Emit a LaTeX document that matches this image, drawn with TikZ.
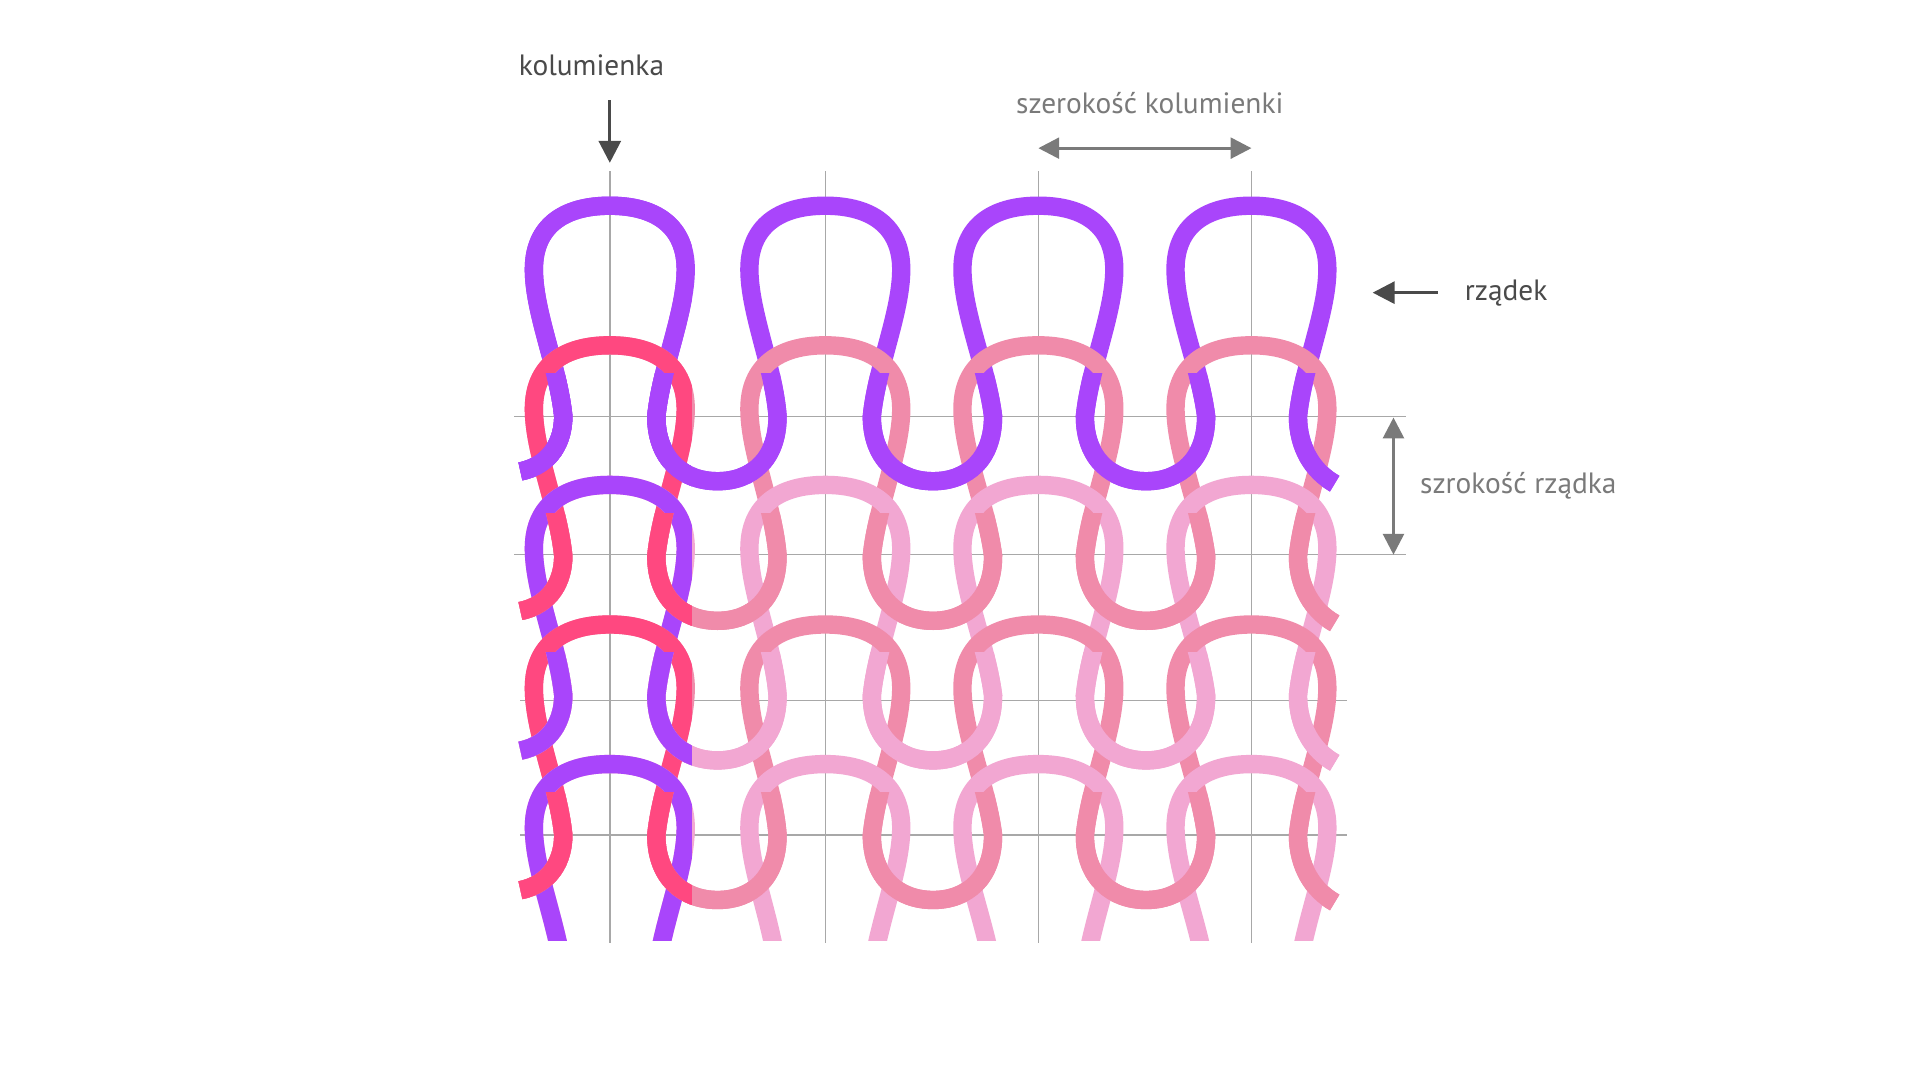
\documentclass[tikz,border=0pt]{standalone}
\usepackage{fontspec}
\setmainfont{PT Sans}
\usetikzlibrary{arrows.meta}
\definecolor{vio}{HTML}{A945FB}
\definecolor{red1}{HTML}{FF4880}
\definecolor{pmed}{HTML}{F08BAA}
\definecolor{plight}{HTML}{F2A7D2}
\definecolor{grid}{HTML}{A8A8A8}
\definecolor{dark}{HTML}{4A4A4A}
\definecolor{mid}{HTML}{7A7A7A}
\newcommand\loopat[2]{% c, L
 .. controls ({#1-42},{#2-40}) and ({#1-62},{#2-85}) .. ({#1-62},{#2-120})
 .. controls ({#1-62},{#2-155}) and ({#1-38},{#2-172}) .. ({#1},{#2-172})
 .. controls ({#1+38},{#2-172}) and ({#1+62},{#2-155}) .. ({#1+62},{#2-120})
 .. controls ({#1+62},{#2-85}) and ({#1+42},{#2-40}) .. ({#1+38},{#2})}
\newcommand\uat[2]{% c, L
 .. controls ({#1+38},{#2+35}) and ({#1+60},{#2+53}) .. ({#1+88},{#2+53})
 .. controls ({#1+116},{#2+53}) and ({#1+137},{#2+35}) .. ({#1+137},{#2})}
\newcommand\yarn[1]{(425,{#1+45}) .. controls (450,{#1+40}) and (460,{#1+20}) .. (460,{#1})
 \loopat{498}{#1}\uat{498}{#1}\loopat{674}{#1}\uat{674}{#1}\loopat{848}{#1}\uat{848}{#1}\loopat{1022}{#1}
 .. controls (1060,{#1+25}) and (1072,{#1+45}) .. (1090,{#1+55})}
\newcommand\rowdraw[3]{%
 \draw[yarn,#2] \yarn{#1};
 \begin{scope}\clip (0,0) rectangle (565,900); \draw[yarn,#3] \yarn{#1}; \end{scope}}
\newcommand\rowpart[3]{%
 \begin{scope}\clip (0,{#1-35}) rectangle (1568,900); \rowdraw{#1}{#2}{#3}\end{scope}}
\begin{document}
\begin{tikzpicture}[x=1pt,y=-1pt,
 yarn/.style={line width=15pt},
 gl/.style={grid,line width=1.3pt},
 ar/.style={line width=2.5pt,-{Triangle[length=18pt,width=18pt]}},
 dar/.style={line width=2.5pt,{Triangle[length=17pt,width=17pt]}-{Triangle[length=17pt,width=17pt]}},
 lab/.style={font=\fontsize{24}{28}\selectfont}]
\useasboundingbox (0,0) rectangle (1568,882);
\fill[white] (0,0) rectangle (1568,882);
% grid
\foreach \c in {498,674,848,1022} \draw[gl] (\c,140) -- (\c,770);
\draw[gl] (420,340) -- (1148,340);
\draw[gl] (420,453) -- (1148,453);
\draw[gl] (425,572) -- (1100,572);
\draw[gl] (425,682) -- (1100,682);
\begin{scope}
\clip (0,0) rectangle (1568,768);
\rowdraw{340}{vio}{vio}
\rowdraw{454}{pmed}{red1}
\rowpart{340}{vio}{vio}
\rowdraw{568}{plight}{vio}
\rowpart{454}{pmed}{red1}
\rowdraw{682}{pmed}{red1}
\rowpart{568}{plight}{vio}
\rowdraw{796}{plight}{vio}
\rowpart{682}{pmed}{red1}
\end{scope}
% annotations
\node[lab,text=dark] (kol) at (483,53) {kolumienka};
\coordinate (k1) at (498,82); \coordinate (k2) at (498,133);
\draw[ar,dark] (k1) -- (k2);
\node[lab,text=mid] (szk) at (939,84) {szerokość kolumienki};
\coordinate (s1) at (848,121); \coordinate (s2) at (1022,121);
\draw[dar,mid] (s1) -- (s2);
\node[lab,text=dark] (rz) at (1230,239) {rządek};
\coordinate (r1) at (1174,239); \coordinate (r2) at (1121,239);
\draw[ar,dark] (r1) -- (r2);
\node[lab,text=mid] (szr) at (1240,397) {szrokość rządka};
\coordinate (q1) at (1138,341); \coordinate (q2) at (1138,453);
\draw[dar,mid] (q1) -- (q2);
\end{tikzpicture}
\end{document}
